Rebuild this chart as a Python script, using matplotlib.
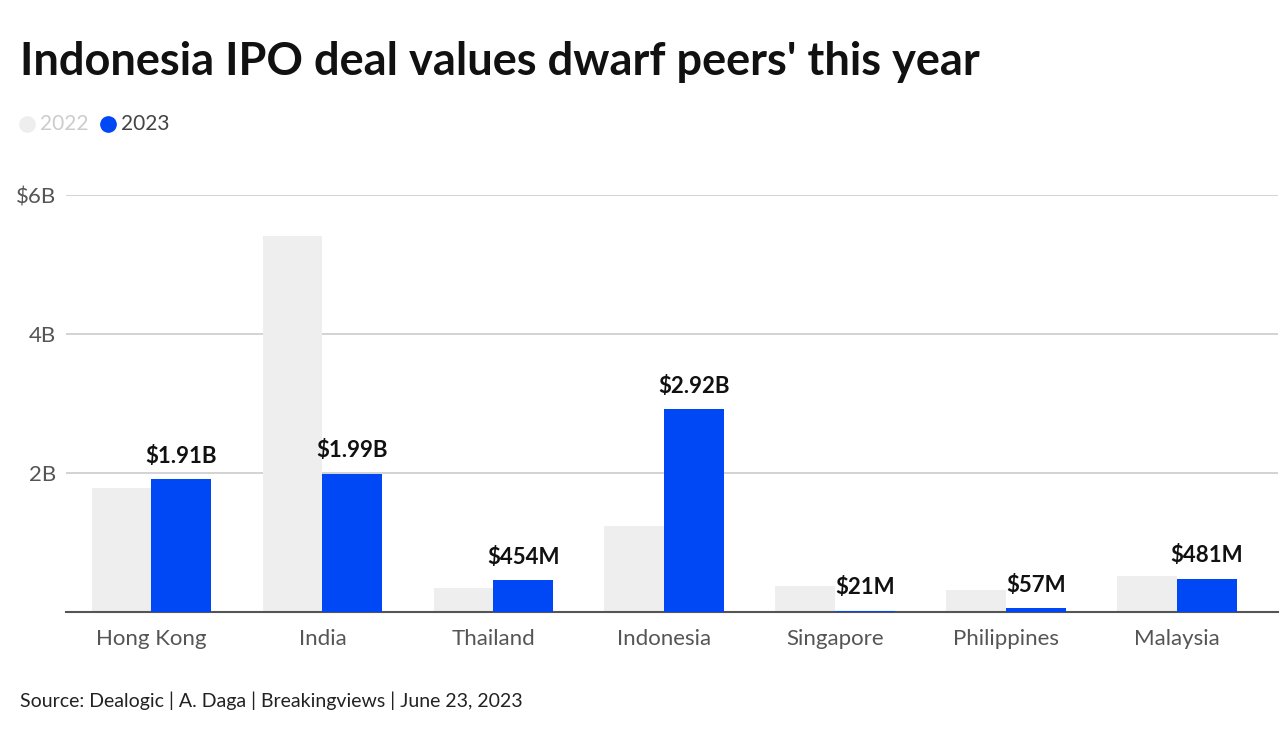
import numpy as np
import matplotlib.pyplot as plt

plt.rcParams['font.family'] = ['Lato', 'DejaVu Sans']

countries = ['Hong Kong', 'India', 'Thailand', 'Indonesia', 'Singapore', 'Philippines', 'Malaysia']
v2022 = [1.78, 5.41, 0.34, 1.24, 0.37, 0.32, 0.52]
v2023 = [1.91, 1.99, 0.454, 2.92, 0.021, 0.057, 0.481]
labels2023 = ['$1.91B', '$1.99B', '$454M', '$2.92B', '$21M', '$57M', '$481M']
yticks = [2, 4, 6]
yticklabels = ['2B', '4B', '$6B']

c22 = '#efeeef'
c23 = '#0047f5'

fig = plt.figure(figsize=(12.8, 7.36), dpi=100)
ax = fig.add_axes([66/1280, 124/736, (1278-66)/1280, (612-195)/736])

x = np.arange(len(countries))
w = 0.35
ax.bar(x - w/2, v2022, w, color=c22, zorder=1)
ax.bar(x + w/2, v2023, w, color=c23, zorder=6)

for xi, v, s in zip(x, v2023, labels2023):
    ax.annotate(s, (xi + w/2, v), xytext=(0, 9), textcoords='offset points',
                ha='center', va='bottom', fontsize=16, fontweight='bold', color='#111111')

ax.set_xlim(-0.5, 6.59)
ax.set_ylim(0, 6)
ax.set_yticks(yticks)
ax.set_yticklabels(yticklabels)
ax.set_xticks(x)
ax.set_xticklabels(countries)
ax.yaxis.grid(True, color='#cccccc', linewidth=1.2, zorder=0)
ax.set_axisbelow(True)
for s in ['top', 'right', 'left']:
    ax.spines[s].set_visible(False)
ax.spines['bottom'].set_color('#555555')
ax.spines['bottom'].set_linewidth(1.5)
ax.spines['bottom'].set_zorder(5)
ax.tick_params(axis='both', length=0, labelsize=16, labelcolor='#555555')
ax.tick_params(axis='x', pad=12)
ax.tick_params(axis='y', pad=7)

fig.text(20/1280, 1 - 62/736, "Indonesia IPO deal values dwarf peers' this year",
         fontsize=32.5, fontweight='bold', color='#111111', va='center', ha='left')

# legend
fig.lines.append(plt.Line2D([27/1280], [1 - 124/736], marker='o', markersize=11,
                            color=c22, transform=fig.transFigure))
fig.text(40/1280, 1 - 124/736, '2022', fontsize=15, color='#cccccc', va='center')
fig.lines.append(plt.Line2D([108/1280], [1 - 124/736], marker='o', markersize=11,
                            color=c23, transform=fig.transFigure))
fig.text(121/1280, 1 - 124/736, '2023', fontsize=15, color='#444444', va='center')

fig.text(20/1280, 1 - 701/736, 'Source: Dealogic | A. Daga | Breakingviews | June 23, 2023',
         fontsize=14, color='#222222', va='center')

fig.savefig('out.png', dpi=100)
